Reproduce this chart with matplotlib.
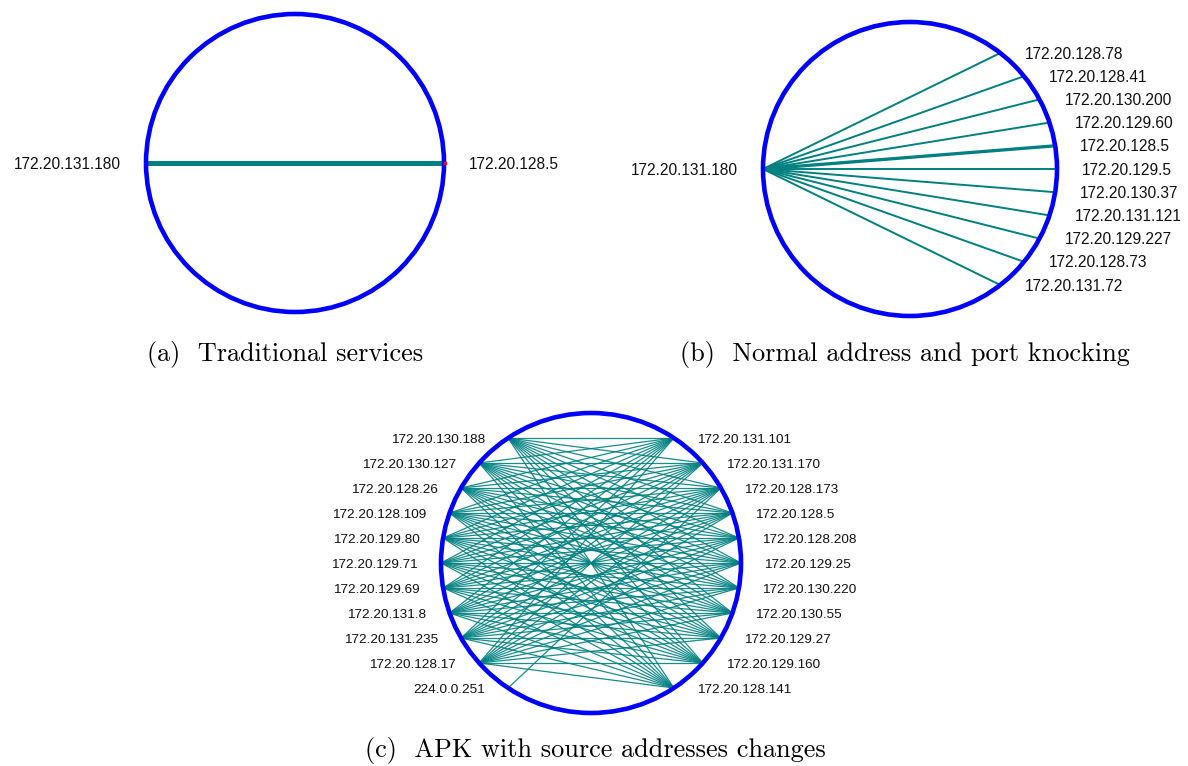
import numpy as np
import matplotlib
matplotlib.use("Agg")
import matplotlib.pyplot as plt
from matplotlib.patches import Ellipse

# ---- data -------------------------------------------------------------
# (a) traditional services: one client talking to one server
panel_a_nodes = ["172.20.131.180", "172.20.128.5"]

# (b) normal address and port knocking: one source, many destinations
panel_b_source = "172.20.131.180"
panel_b_targets = [
    "172.20.128.78", "172.20.128.41", "172.20.130.200", "172.20.129.60",
    "172.20.128.5", "172.20.129.5", "172.20.130.37", "172.20.131.121",
    "172.20.129.227", "172.20.128.73", "172.20.131.72",
]
panel_b_weights = [1, 1, 1, 1, 2, 1, 1, 1, 1, 1, 1]

# (c) APK with source address changes: sources on the left, servers on the right
panel_c_left = [
    "172.20.130.188", "172.20.130.127", "172.20.128.26", "172.20.128.109",
    "172.20.129.80", "172.20.129.71", "172.20.129.69", "172.20.131.8",
    "172.20.131.235", "172.20.128.17", "224.0.0.251",
]
panel_c_right = [
    "172.20.131.101", "172.20.131.170", "172.20.128.173", "172.20.128.5",
    "172.20.128.208", "172.20.129.25", "172.20.130.220", "172.20.130.55",
    "172.20.129.27", "172.20.129.160", "172.20.128.141",
]
panel_c_multicast = ("224.0.0.251", "172.20.128.173")

captions = [
    "(a)  Traditional services",
    "(b)  Normal address and port knocking",
    "(c)  APK with source addresses changes",
]

# ---- styling ------------------------------------------------------------
RING = "#0000ff"
EDGE = "#008080"
LABEL_FONT = "Liberation Sans"
CAPTION_FONT = "cmr10"

W, H = 1188, 766
fig = plt.figure(figsize=(W / 100, H / 100), dpi=100)
ax = fig.add_axes([0, 0, 1, 1])
ax.set_xlim(0, W)
ax.set_ylim(H, 0)
ax.set_aspect("equal")
ax.axis("off")


def ring(cx, cy, r, lw=3.3):
    ax.add_patch(Ellipse((cx, cy), 2 * r, 2 * r, fill=False,
                         edgecolor=RING, linewidth=lw, zorder=3))


def side_positions(cx, cy, r, n, step, side):
    """Nodes spread evenly in height along one side of the ring."""
    dy = (np.arange(n) - (n - 1) / 2) * step
    dx = np.sqrt(r ** 2 - dy ** 2)
    return cx + side * dx, cy + dy


def label(x, y, text, side, size, gap):
    cap = size * 100 / 72 * 0.716
    ha = "left" if side > 0 else "right"
    ax.text(x + side * gap, y + cap / 2, text, ha=ha, va="baseline",
            fontsize=size, family=LABEL_FONT, color="#111111", zorder=5)


# ---- (a) ----------------------------------------------------------------
ax_cx, ax_cy, ax_r = 295, 163, 149
ring(ax_cx, ax_cy, ax_r)
xa = [ax_cx - ax_r, ax_cx + ax_r]
ya = [ax_cy, ax_cy]
ax.plot(xa, ya, color=EDGE, lw=3.6, solid_capstyle="butt", zorder=2)
ax.plot([xa[1] + 1], [ya[1]], marker="s", ms=1.5, color="red", zorder=4)
label(xa[0], ya[0], panel_a_nodes[0], -1, 11.2, 25)
label(xa[1], ya[1], panel_a_nodes[1], +1, 11.2, 25)

# ---- (b) ----------------------------------------------------------------
bx, by, br = 910, 169, 147
ring(bx, by, br)
src = (bx - br, by)
tx, ty = side_positions(bx, by, br, len(panel_b_targets), 23.2, +1)
for x, y, w in zip(tx, ty, panel_b_weights):
    ax.plot([src[0], x], [src[1], y], color=EDGE, lw=1.4 * w ** 0.75,
            solid_capstyle="butt", zorder=2)
label(src[0], src[1], panel_b_source, -1, 11.2, 25)
for x, y, name in zip(tx, ty, panel_b_targets):
    label(x, y, name, +1, 11.2, 25)

# ---- (c) ----------------------------------------------------------------
cx, cy, cr = 591, 563, 150
ring(cx, cy, cr)
lx, ly = side_positions(cx, cy, cr, len(panel_c_left), 25, -1)
rx, ry = side_positions(cx, cy, cr, len(panel_c_right), 25, +1)
left_pos = dict(zip(panel_c_left, zip(lx, ly)))
right_pos = dict(zip(panel_c_right, zip(rx, ry)))

edges = [(a, b) for a in panel_c_left if a != panel_c_multicast[0]
         for b in panel_c_right]
edges.append(panel_c_multicast)
for a, b in edges:
    (x0, y0), (x1, y1) = left_pos[a], right_pos[b]
    ax.plot([x0, x1], [y0, y1], color=EDGE, lw=0.9, alpha=0.9, zorder=2)

for name, (x, y) in left_pos.items():
    label(x, y, name, -1, 9.7, 23)
for name, (x, y) in right_pos.items():
    label(x, y, name, +1, 9.7, 23)

# ---- captions -------------------------------------------------------------
for (x, y), text in zip([(285, 354), (905, 354), (595, 751)], captions):
    ax.text(x, y, text, ha="center", va="center", fontsize=18.9,
            family=CAPTION_FONT, color="black")

fig.savefig("out.png", dpi=100, facecolor="white")
